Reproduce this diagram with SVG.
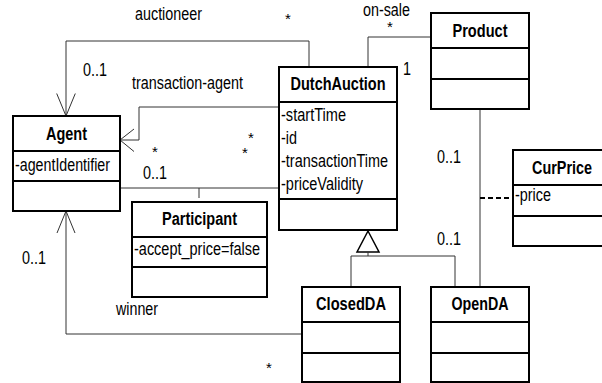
<svg xmlns="http://www.w3.org/2000/svg" width="602" height="383" viewBox="0 0 602 383">
<style>
text{font-family:"Liberation Sans",Arial,sans-serif;font-size:17.5px;fill:#000}
.n{font-weight:bold;text-anchor:middle}
.box{fill:#fff;stroke:#000;stroke-width:2}
.div{stroke:#000;stroke-width:2}
.c{fill:none;stroke:#333;stroke-width:1}
.d{fill:none;stroke:#000;stroke-width:2;stroke-dasharray:5,3}
.tri{fill:#fff;stroke:#000;stroke-width:1.5}
.s{font-size:15px}
</style>
<rect width="602" height="383" fill="#fff"/>
<g id="connectors">
<polyline class="c" points="309,67 309,41 66,41 66,116"/>
<path class="c" d="M56.7,93.5 L66,116 L75.3,93.5" stroke-width="1.3"/>
<polyline class="c" points="279,107 139,107 139,140 120,140"/>
<path class="c" d="M134,129 L120,140 L134,151.5" stroke-width="1.3"/>
<line class="c" x1="120" y1="188" x2="279" y2="188"/>
<line class="c" x1="199" y1="188" x2="199" y2="198"/>
<polyline class="c" points="302,334 66,334 66,211"/>
<path class="c" d="M57,233 L66,211 L75,233" stroke-width="1.3"/>
<polyline class="c" points="431,37 368,37 368,67"/>
<line class="c" x1="480" y1="109" x2="480" y2="287"/>
<line class="d" x1="480" y1="198" x2="513" y2="198"/>
<polygon class="tri" points="368,231 357,252 379,252"/>
<line class="c" x1="368" y1="252" x2="368" y2="256"/>
<polyline class="c" points="351,287 351,256 455,256 455,287"/>
</g>
<g id="labels">
<text x="135" y="20" textLength="67" lengthAdjust="spacingAndGlyphs">auctioneer</text>
<text class="s" x="285" y="24">*</text>
<text x="363" y="16" textLength="47" lengthAdjust="spacingAndGlyphs">on-sale</text>
<text class="s" x="387" y="32">*</text>
<text x="403" y="75" textLength="8" lengthAdjust="spacingAndGlyphs">1</text>
<text x="83" y="76" textLength="24" lengthAdjust="spacingAndGlyphs">0..1</text>
<text x="132" y="89" textLength="111" lengthAdjust="spacingAndGlyphs">transaction-agent</text>
<text class="s" x="152" y="157">*</text>
<text class="s" x="248" y="143">*</text>
<text class="s" x="242" y="158">*</text>
<text x="143" y="179" textLength="24" lengthAdjust="spacingAndGlyphs">0..1</text>
<text x="437" y="163" textLength="24" lengthAdjust="spacingAndGlyphs">0..1</text>
<text x="437" y="245" textLength="24" lengthAdjust="spacingAndGlyphs">0..1</text>
<text x="22" y="264" textLength="24" lengthAdjust="spacingAndGlyphs">0..1</text>
<text x="116" y="315" textLength="42" lengthAdjust="spacingAndGlyphs">winner</text>
<text class="s" x="266" y="373">*</text>
</g>
<g id="Agent">
<rect class="box" x="13" y="116" width="107" height="95"/>
<line class="div" x1="13" y1="151" x2="120" y2="151"/>
<line class="div" x1="13" y1="181" x2="120" y2="181"/>
<text class="n" x="66.5" y="139.5" textLength="41" lengthAdjust="spacingAndGlyphs">Agent</text>
<text x="15" y="171" textLength="95" lengthAdjust="spacingAndGlyphs">-agentIdentifier</text>
</g>
<g id="DutchAuction">
<rect class="box" x="279" y="67" width="118" height="163"/>
<line class="div" x1="279" y1="102" x2="397" y2="102"/>
<line class="div" x1="279" y1="199" x2="397" y2="199"/>
<text class="n" x="338" y="90" textLength="95" lengthAdjust="spacingAndGlyphs">DutchAuction</text>
<text x="281" y="121" textLength="65" lengthAdjust="spacingAndGlyphs">-startTime</text>
<text x="281" y="144" textLength="16" lengthAdjust="spacingAndGlyphs">-id</text>
<text x="281" y="167" textLength="107" lengthAdjust="spacingAndGlyphs">-transactionTime</text>
<text x="281" y="190" textLength="82" lengthAdjust="spacingAndGlyphs">-priceValidity</text>
</g>
<g id="Product">
<rect class="box" x="431" y="13" width="98" height="96"/>
<line class="div" x1="431" y1="48" x2="529" y2="48"/>
<line class="div" x1="431" y1="79" x2="529" y2="79"/>
<text class="n" x="480" y="36.5" textLength="55" lengthAdjust="spacingAndGlyphs">Product</text>
</g>
<g id="CurPrice">
<rect class="box" x="513" y="150" width="98" height="96"/>
<line class="div" x1="513" y1="185" x2="611" y2="185"/>
<line class="div" x1="513" y1="216" x2="611" y2="216"/>
<text class="n" x="562" y="173.5" textLength="60" lengthAdjust="spacingAndGlyphs">CurPrice</text>
<text x="515" y="201" textLength="36" lengthAdjust="spacingAndGlyphs">-price</text>
</g>
<g id="Participant">
<rect class="box" x="132" y="202" width="135" height="95"/>
<line class="div" x1="132" y1="237" x2="267" y2="237"/>
<line class="div" x1="132" y1="267" x2="267" y2="267"/>
<text class="n" x="199.5" y="224.5" textLength="75" lengthAdjust="spacingAndGlyphs">Participant</text>
<text x="134" y="255" textLength="126" lengthAdjust="spacingAndGlyphs">-accept_price=false</text>
</g>
<g id="ClosedDA">
<rect class="box" x="302" y="287" width="98" height="95"/>
<line class="div" x1="302" y1="322" x2="400" y2="322"/>
<line class="div" x1="302" y1="353" x2="400" y2="353"/>
<text class="n" x="351" y="310" textLength="70" lengthAdjust="spacingAndGlyphs">ClosedDA</text>
</g>
<g id="OpenDA">
<rect class="box" x="431" y="287" width="98" height="95"/>
<line class="div" x1="431" y1="322" x2="529" y2="322"/>
<line class="div" x1="431" y1="353" x2="529" y2="353"/>
<text class="n" x="480" y="310" textLength="57" lengthAdjust="spacingAndGlyphs">OpenDA</text>
</g>
</svg>
